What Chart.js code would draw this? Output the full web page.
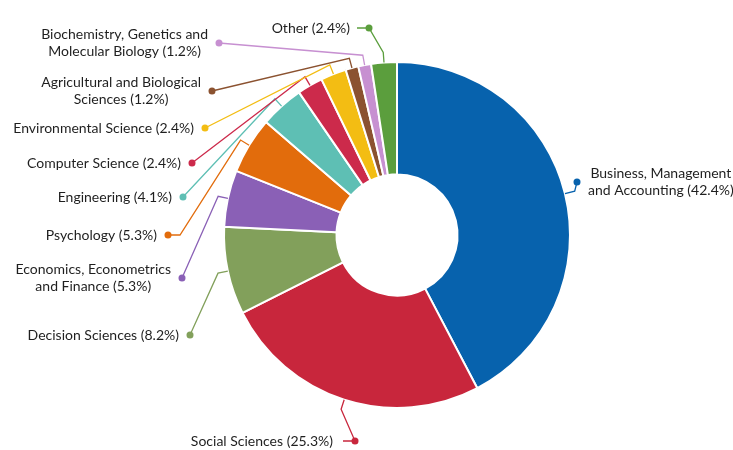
<!DOCTYPE html>
<html>
<head>
<meta charset="utf-8">
<script src="https://cdn.jsdelivr.net/npm/chart.js@4/dist/chart.umd.min.js"></script>
<style>
  html, body { margin: 0; padding: 0; background: #fff; }
  #subjectChart { display: block; }
</style>
</head>
<body>
<canvas id="subjectChart" width="733" height="450"></canvas>
<script>
// subject areas (each entry is one label, split into its printed lines)
const categories = [
    ['Business, Management', 'and Accounting'],
    ['Social Sciences'],
    ['Decision Sciences'],
    ['Economics, Econometrics', 'and Finance'],
    ['Psychology'],
    ['Engineering'],
    ['Computer Science'],
    ['Environmental Science'],
    ['Agricultural and Biological', 'Sciences'],
    ['Biochemistry, Genetics and', 'Molecular Biology'],
    ['Other']
];
const shares = [42.4, 25.3, 8.2, 5.3, 5.3, 4.1, 2.4, 2.4, 1.2, 1.2, 2.4];
const sliceColors = [
    '#0762ad', '#c8263c', '#82a05b', '#8a60b6', '#e26c0c', '#5ebfb4',
    '#cc2a4b', '#f3bd13', '#8b5230', '#c790d1', '#5b9e3d'
];

// where each callout dot sits; text hangs off the dot on the given side
const calloutSpots = [
    { x: 577, y: 182, side: 'right' },
    { x: 355, y: 441, side: 'left', gap: 22, tail: 12 },
    { x: 190, y: 335, side: 'left' },
    { x: 182, y: 278, side: 'left' },
    { x: 168, y: 235, side: 'left', stub: 12 },
    { x: 183, y: 197, side: 'left' },
    { x: 192, y: 163, side: 'left' },
    { x: 205, y: 128, side: 'left' },
    { x: 212, y: 91, side: 'left' },
    { x: 219, y: 43, side: 'left' },
    { x: 369, y: 28, side: 'left', gap: 19, tail: 12 }
];

const labelFont = '14px Lato, "Noto Sans", sans-serif';
const lineHeight = 17;

const calloutPlugin = {
    id: 'callouts',
    afterDatasetsDraw(chart) {
        const ctx = chart.ctx;
        const meta = chart.getDatasetMeta(0);
        ctx.save();
        ctx.font = labelFont;
        meta.data.forEach(function (arc, i) {
            const spot = calloutSpots[i];
            const color = sliceColors[i];
            const mid = (arc.startAngle + arc.endAngle) / 2;
            const ax = arc.x + Math.cos(mid) * arc.outerRadius;
            const ay = arc.y + Math.sin(mid) * arc.outerRadius;
            const ex = arc.x + Math.cos(mid) * (arc.outerRadius + 10);
            const ey = arc.y + Math.sin(mid) * (arc.outerRadius + 10);
            const dir = spot.side === 'left' ? 1 : -1;

            // leader line: slice edge -> elbow -> (stub) -> dot
            ctx.strokeStyle = color;
            ctx.lineWidth = 1.3;
            ctx.beginPath();
            ctx.moveTo(ax, ay);
            ctx.lineTo(ex, ey);
            if (spot.stub) {
                ctx.lineTo(spot.x + dir * spot.stub, spot.y);
            }
            ctx.lineTo(spot.x, spot.y);
            if (spot.tail) {
                ctx.lineTo(spot.x - dir * spot.tail, spot.y);
            }
            ctx.stroke();

            ctx.fillStyle = color;
            ctx.beginPath();
            ctx.arc(spot.x, spot.y, 3.5, 0, Math.PI * 2);
            ctx.fill();

            // label text, lines centred on each other
            const lines = categories[i].slice();
            lines[lines.length - 1] += ' (' + shares[i].toFixed(1) + '%)';
            const widths = lines.map(function (l) { return ctx.measureText(l).width; });
            const blockW = Math.max.apply(null, widths);
            const gap = spot.gap || 11;
            const cx = spot.side === 'left'
                ? spot.x - gap - blockW / 2
                : spot.x + gap + blockW / 2;
            const top = spot.y - (lines.length - 1) * lineHeight / 2;
            ctx.fillStyle = '#1f1f1f';
            ctx.textAlign = 'center';
            ctx.textBaseline = 'middle';
            lines.forEach(function (l, k) {
                ctx.fillText(l, cx, top + k * lineHeight);
            });
        });
        ctx.restore();
    }
};

const ctx = document.getElementById('subjectChart').getContext('2d');
new Chart(ctx, {
    type: 'doughnut',
    data: {
        labels: categories,
        datasets: [{
            data: shares,
            backgroundColor: sliceColors,
            borderColor: '#ffffff',
            borderWidth: 2,
            hoverOffset: 0
        }]
    },
    options: {
        responsive: false,
        animation: false,
        cutout: '35%',
        layout: {
            padding: { left: 61, right: 0, top: 61, bottom: 41 }
        },
        plugins: {
            legend: { display: false },
            tooltip: { enabled: false }
        }
    },
    plugins: [calloutPlugin]
});
</script>
</body>
</html>
